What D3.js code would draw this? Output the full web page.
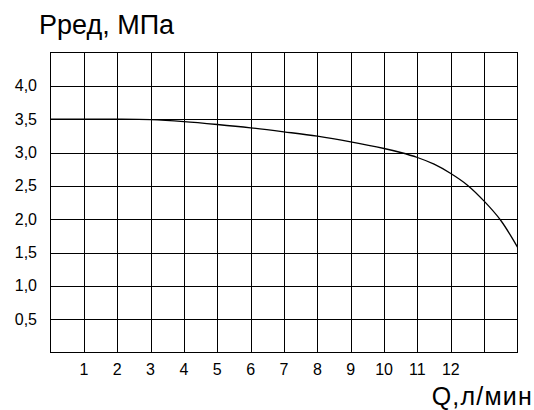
<!DOCTYPE html>
<html><head><meta charset="utf-8">
<script src="https://cdn.jsdelivr.net/npm/d3@7"></script>
<style>body{margin:0;background:#fff}svg{display:block}text{font-family:"Liberation Sans",Arial,sans-serif;fill:#000}</style>
</head><body><svg id="c" width="534" height="410"></svg>
<script>
const flowQ = [0,1,2,3,4,5,6,7,8,9,10,10.5,11,11.5,12,12.5,13,13.5,14];
const pressure = [3.5,3.5,3.5,3.492,3.463,3.42,3.37,3.31,3.245,3.16,3.06,3.0,2.925,2.825,2.685,2.51,2.27,1.98,1.58];
const xTickLabels = ["1","2","3","4","5","6","7","8","9","10","11","12"];
const yTickValues = [0.5,1.0,1.5,2.0,2.5,3.0,3.5,4.0];
const yTickLabels = ["0,5","1,0","1,5","2,0","2,5","3,0","3,5","4,0"];

const svg = d3.select("#c");
const x = d3.scaleLinear().domain([0,14]).range([50.5,517.5]);
const y = d3.scaleLinear().domain([0,4.5]).range([352.5,52.5]);

const g = svg.append("g");
// grid
g.selectAll("line.v").data(d3.range(1,14)).join("line")
  .attr("x1",d=>Math.round(x(d))+0.5).attr("x2",d=>Math.round(x(d))+0.5)
  .attr("y1",y(0)).attr("y2",y(4.5)).attr("stroke","#000").attr("stroke-width",1);
g.selectAll("line.h").data(d3.range(1,9).map(d=>d*0.5)).join("line")
  .attr("y1",d=>Math.round(y(d))+0.5).attr("y2",d=>Math.round(y(d))+0.5)
  .attr("x1",x(0)).attr("x2",x(14)).attr("stroke","#000").attr("stroke-width",1);
g.append("rect").attr("x",x(0)).attr("y",y(4.5)).attr("width",x(14)-x(0)).attr("height",y(0)-y(4.5))
  .attr("fill","none").attr("stroke","#000").attr("stroke-width",1);

// curve
const line = d3.line().x((d,i)=>x(flowQ[i])).y(d=>y(d)).curve(d3.curveCatmullRom.alpha(0.5));
svg.append("path").datum(pressure).attr("d",line).attr("fill","none").attr("stroke","#000").attr("stroke-width",1.3);

// y labels
svg.selectAll("text.yl").data(yTickValues).join("text")
  .attr("x",37).attr("y",d=>y(d)).attr("dy","0.35em").attr("text-anchor","end")
  .attr("font-size",16).text((d,i)=>yTickLabels[i]);
// x labels
svg.selectAll("text.xl").data(xTickLabels).join("text")
  .attr("x",(d,i)=>x(i+1)).attr("y",375).attr("text-anchor","middle")
  .attr("font-size",16).text(d=>d);

svg.append("text").attr("x",39).attr("y",34).attr("font-size",27).text("Рред, МПа");
svg.append("text").attr("x",533).attr("y",405).attr("text-anchor","end").attr("font-size",25)
  .attr("letter-spacing","1.2px").text("Q,л/мин");
</script></body></html>
